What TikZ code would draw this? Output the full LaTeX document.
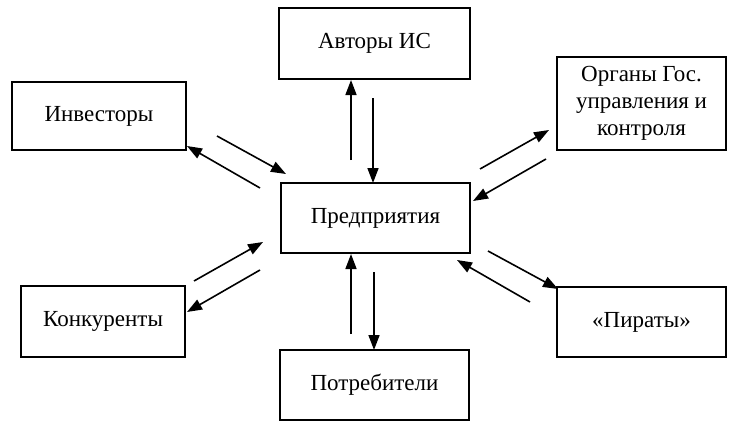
\documentclass[tikz,border=0pt]{standalone}
\usepackage{fontspec}
\setmainfont{Liberation Serif}
\usetikzlibrary{arrows.meta}
\begin{document}
\begin{tikzpicture}[x=1pt,y=-1pt,
  box/.style={draw,line width=1.5pt,inner sep=0pt,align=center,font=\fontsize{23}{27}\selectfont},
  arr/.style={line width=1.6pt,-{Triangle[length=15pt,width=11pt]}}]
\useasboundingbox (0,0) rectangle (736,428);
\node[box,minimum width=191pt,minimum height=71pt] (avt) at (374.5,43.5) {Авторы ИС};
\node[box,minimum width=189pt,minimum height=70pt] (pred) at (375.5,218) {Предприятия};
\node[box,minimum width=189pt,minimum height=70pt] (potr) at (374.5,385) {Потребители};
\node[box,minimum width=174pt,minimum height=68pt] (inv) at (99,116) {Инвесторы};
\node[box,minimum width=169pt,minimum height=93pt] (org) at (641.5,103.5) {Органы Гос.\\управления и\\контроля};
\node[box,minimum width=164pt,minimum height=71pt] (konk) at (103,321.5) {Конкуренты};
\node[box,minimum width=169pt,minimum height=70pt] (pir) at (641.5,322) {«Пираты»};
% arrow end points
\coordinate (a1s) at (351,160); \coordinate (a1e) at (351,80);
\coordinate (a2s) at (373,98);  \coordinate (a2e) at (373,183);
\coordinate (a3s) at (260,188); \coordinate (a3e) at (187,146);
\coordinate (a4s) at (217,136); \coordinate (a4e) at (286,174);
\coordinate (a5s) at (480,169); \coordinate (a5e) at (549,130);
\coordinate (a6s) at (546,159); \coordinate (a6e) at (473,201);
\coordinate (a7s) at (194,281); \coordinate (a7e) at (263,242);
\coordinate (a8s) at (260,270); \coordinate (a8e) at (187,312);
\coordinate (a9s) at (488,251); \coordinate (a9e) at (558,289);
\coordinate (a10s) at (530,302); \coordinate (a10e) at (457,260);
\coordinate (a11s) at (351,334); \coordinate (a11e) at (351,254);
\coordinate (a12s) at (374,272); \coordinate (a12e) at (374,350);
\foreach \i in {1,...,12} {\draw[arr] (a\i s) -- (a\i e);}
\end{tikzpicture}
\end{document}
